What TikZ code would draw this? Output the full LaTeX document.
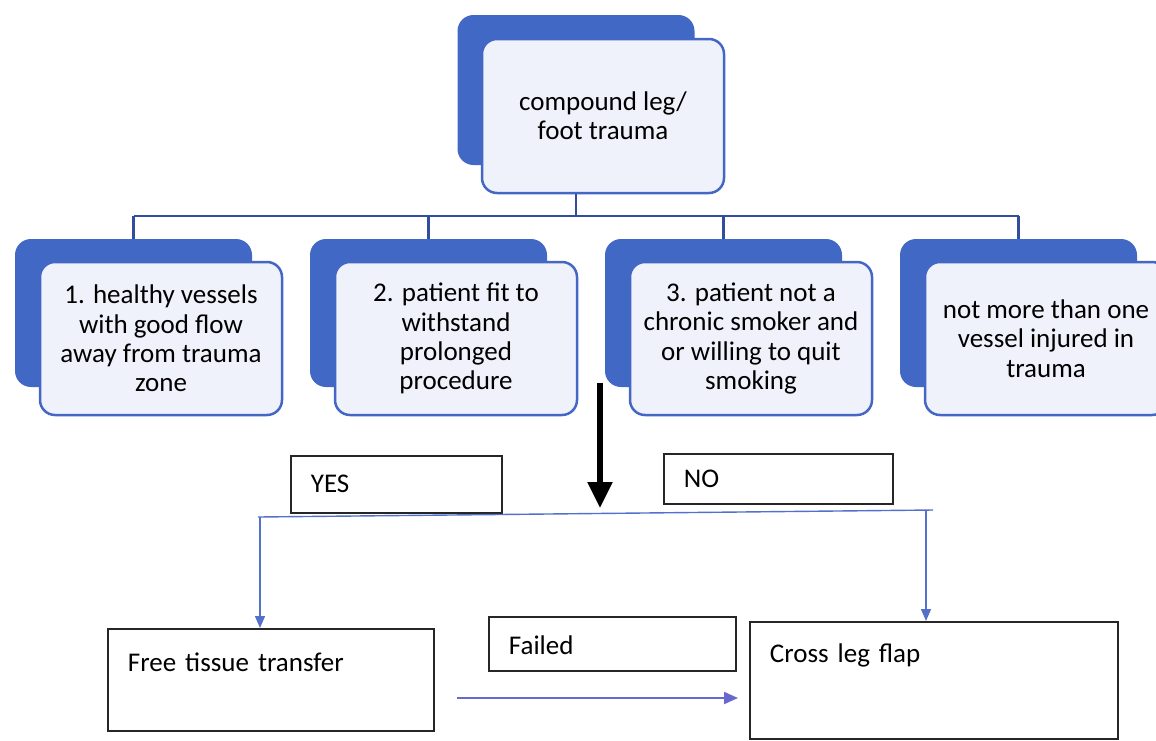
\documentclass[tikz,border=0pt]{standalone}
\usepackage{fontspec}
\setmainfont{Carlito}
\usetikzlibrary{arrows.meta}

\definecolor{shadeblue}{RGB}{66,104,198}
\definecolor{frameblue}{RGB}{68,102,196}
\definecolor{paleblue}{RGB}{239,242,250}
\definecolor{linkblue}{RGB}{48,78,158}
\definecolor{flowblue}{RGB}{82,112,204}
\definecolor{failblue}{RGB}{104,104,206}

\tikzset{
  backbox/.style={rectangle, rounded corners=16pt, fill=shadeblue, minimum width=237pt, minimum height=148pt},
  frontbox/.style={rectangle, rounded corners=15pt, draw=frameblue, line width=2.5pt, fill=paleblue,
    minimum width=242pt, minimum height=153pt, align=center, font=\fontsize{27}{29.3}\selectfont},
  link/.style={draw=linkblue, line width=2.5pt},
  plainbox/.style={rectangle, draw=black!85, line width=1.8pt, anchor=north west, inner xsep=20pt,
    inner ysep=0pt, align=left, font=\fontsize{27}{29}\selectfont},
  flow/.style={draw=flowblue, line width=1.4pt, -{Triangle[length=12pt,width=10pt]}},
  failarrow/.style={draw=failblue, line width=2pt, -{Triangle[length=14pt,width=12pt]}}
}

\begin{document}
\begin{tikzpicture}[x=1pt,y=-1pt]
\useasboundingbox (0,0) rectangle (1156,740);

% root
\node[backbox, minimum height=150pt] (rootback) at (576,90) {};
\node[frontbox, minimum height=154pt] (root) at (603,116) {compound leg/\\foot trauma};

% criteria
\foreach \i/\txt in {1/{1. healthy vessels\\with good flow\\away from trauma\\zone},
                     2/{2. patient fit to\\withstand\\prolonged\\procedure},
                     3/{3. patient not a\\chronic smoker and\\or willing to quit\\smoking},
                     4/{not more than one\\vessel injured in\\trauma}} {
  \node[backbox] (back\i) at ({133.5+295*(\i-1)},313) {};
  \node[frontbox] (crit\i) at ({161+295*(\i-1)},338.5) {\txt};
}

% tree connectors
\coordinate (bar) at (0,216);
\draw[link] (rootback.south |- root.south) -- (rootback.south |- bar);
\draw[link] (back1.north |- bar) -- (back4.north |- bar);
\foreach \i in {1,...,4}
  \draw[link] (back\i.north) -- (back\i.north |- bar);

% decision
\coordinate (dropstart) at (600,383);
\coordinate (droptip) at (600,508);
\draw[line width=5.5pt, -{Triangle[length=26pt,width=24pt]}] (dropstart) -- (droptip);

\node[plainbox, text width=171pt, text height=37pt, text depth=20pt] (yes) at (290,455) {YES};
\node[plainbox, text width=189pt, text height=34pt, text depth=16pt] (no) at (663,453) {NO};

% outcomes
\node[plainbox, text width=286pt, text height=43pt, text depth=59pt] (free) at (107,628) {Free tissue transfer};
\node[plainbox, text width=207pt, text height=38pt, text depth=16pt] (failed) at (488,616) {Failed};
\node[plainbox, text width=328pt, text height=41pt, text depth=76pt] (cross) at (749,621) {Cross leg flap};

\coordinate (splitleft) at (258,517);
\coordinate (splitright) at (933,510);
\coordinate (yesdrop) at (260,517);
\coordinate (nodrop) at (926,511);
\draw[draw=flowblue, line width=1.4pt] (splitleft) -- (splitright);
\draw[flow] (yesdrop) -- (yesdrop |- free.north);
\draw[flow] (nodrop) -- (nodrop |- cross.north);

\coordinate (failstart) at (457,698);
\draw[failarrow, shorten >=11pt] (failstart) -- (failstart -| cross.west);
\end{tikzpicture}
\end{document}
